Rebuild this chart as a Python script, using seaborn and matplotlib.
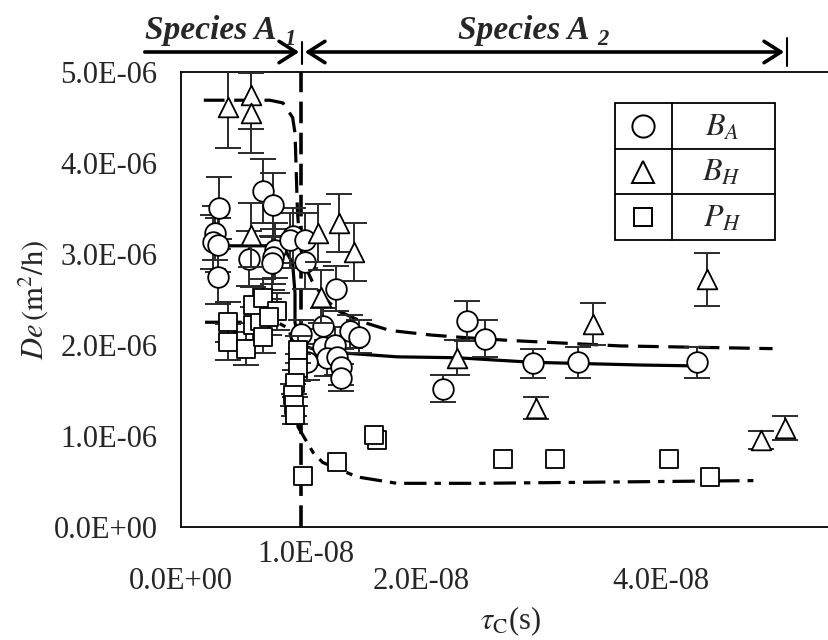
import numpy as np
import pandas as pd
import matplotlib
matplotlib.use("Agg")
import matplotlib.pyplot as plt
import seaborn as sns
from matplotlib.lines import Line2D
from matplotlib.patches import Rectangle, FancyArrowPatch

# ---------------- data (x in units of 1e-8 s, y in units of 1e-6 m2/h) ----------------
ba_x = [0.32, 0.28, 0.27, 0.31, 0.31, 0.68, 0.77, 0.57, 0.78, 0.77, 0.76, 0.93, 0.91,
        1.03, 1.03, 1.00, 1.18, 1.41, 1.48, 1.18, 1.28, 1.22, 1.30, 1.33, 1.33, 1.05,
        1.29, 2.18, 2.38, 2.53, 2.93, 3.31, 4.30]
ba_y = [3.51, 3.23, 3.13, 3.10, 2.75, 3.69, 3.54, 2.95, 3.04, 2.97, 2.90, 3.20, 3.15,
        3.15, 2.91, 2.12, 2.21, 2.15, 2.09, 1.98, 2.00, 1.86, 1.87, 1.76, 1.64, 1.81,
        2.62, 1.52, 2.26, 2.07, 1.80, 1.81, 1.81]
ba_e = [0.34, 0.30, 0.30, 0.30, 0.30, 0.35, 0.35, 0.30, 0.30, 0.30, 0.30, 0.30, 0.30,
        0.30, 0.30, 0.15, 0.20, 0.18, 0.18, 0.20, 0.20, 0.20, 0.20, 0.20, 0.15, 0.20,
        0.25, 0.15, 0.22, 0.20, 0.16, 0.17, 0.17]

bh_x = [0.39, 0.58, 0.58, 0.58, 1.14, 1.32, 1.44, 1.17, 2.30, 2.96, 3.43, 4.38, 4.83, 5.03]
bh_y = [4.61, 4.75, 4.55, 3.21, 3.23, 3.34, 3.02, 2.53, 1.86, 1.31, 2.23, 2.72, 0.96, 1.09]
bh_e = [0.45, 0.38, 0.44, 0.35, 0.32, 0.32, 0.32, 0.29, 0.19, 0.12, 0.23, 0.29, 0.10, 0.13]

ph_x = [0.39, 0.39, 0.54, 0.60, 0.66, 0.68, 0.60, 0.68, 0.80, 0.73, 0.975, 0.975, 0.95,
        0.93, 0.94, 0.95, 1.02, 1.30, 1.63, 1.61, 2.68, 3.12, 4.07, 4.41]
ph_y = [2.25, 2.03, 1.96, 2.22, 2.26, 2.09, 2.44, 2.52, 2.37, 2.31, 1.95, 1.75, 1.58,
        1.45, 1.34, 1.23, 0.56, 0.71, 0.96, 1.01, 0.75, 0.75, 0.75, 0.55]
ph_e = [0.22, 0.20, 0.18, 0.20, 0.20, 0.18, 0.20, 0.20, 0.20, 0.20, 0.15, 0.15, 0.15,
        0.12, 0.12, 0.10, 0.0, 0.0, 0.0, 0.0, 0.0, 0.0, 0.0, 0.0]

# model curves
bh_fit_x = [0.19, 0.74, 0.85, 0.93, 0.95, 0.96, 0.97, 0.99, 1.03, 1.09, 1.16, 1.30, 1.52,
            1.74, 2.08, 2.38, 2.74, 3.66, 4.93]
bh_fit_y = [4.69, 4.69, 4.66, 4.50, 4.33, 3.92, 3.48, 3.10, 2.88, 2.71, 2.57, 2.38, 2.25,
            2.16, 2.11, 2.08, 2.05, 1.99, 1.96]
ba_fit_x = [0.37, 0.72, 0.87, 0.93, 0.95, 0.95, 0.97, 1.05, 1.18, 1.38, 1.80, 2.30, 2.93,
            3.83, 4.30]
ba_fit_y = [3.09, 3.09, 3.04, 2.90, 2.57, 2.25, 2.10, 1.98, 1.92, 1.91, 1.87, 1.86, 1.81,
            1.78, 1.77]
ph_fit_x = [0.20, 0.80, 0.90, 0.95, 0.97, 0.975, 1.10, 1.18, 1.47, 1.80, 2.49, 4.77]
ph_fit_y = [2.25, 2.25, 2.18, 1.90, 1.45, 1.10, 0.82, 0.71, 0.55, 0.48, 0.48, 0.51]

boundary = 1.0  # species A1 / A2 boundary (1e-8 s)

y_ticks = [0, 1, 2, 3, 4, 5]
y_tick_labels = ["0.0E+00", "1.0E-06", "2.0E-06", "3.0E-06", "4.0E-06", "5.0E-06"]
x_ticks = [0, 2, 4]
x_tick_labels = ["0.0E+00", "2.0E-08", "4.0E-08"]
extra_x_label = "1.0E-08"

XS, YS = 1e-8, 1e-6

# ---------------- style ----------------
sns.set_style("white")
plt.rcParams["font.family"] = ["Liberation Serif", "DejaVu Serif"]
plt.rcParams["mathtext.fontset"] = "stix"

W, H = 829, 640
fig = plt.figure(figsize=(W / 100, H / 100), dpi=100)
L, R, B, T = 181, 829, 527, 72
ax = fig.add_axes([L / W, 1 - B / H, (R - L) / W, (B - T) / H])

def fx(px):
    return px / W

def fy(py):
    return 1 - py / H

FS = 22

# ---------------- curves ----------------
curves = [
    (bh_fit_x, bh_fit_y, (0, (6.5, 3.0))),
    (ba_fit_x, ba_fit_y, "-"),
    (ph_fit_x, ph_fit_y, (0, (7.0, 2.5, 2.0, 2.5))),
]
for cx, cy, ls in curves:
    df = pd.DataFrame({"x": np.array(cx) * XS, "y": np.array(cy) * YS})
    n0 = len(ax.lines)
    sns.lineplot(data=df, x="x", y="y", sort=False, estimator=None, ax=ax,
                 color="black", linewidth=2.3, zorder=2)
    for ln in ax.lines[n0:]:
        ln.set_linestyle(ls)

ax.axvline(boundary * XS, color="black", linewidth=2.6,
           linestyle=(0, (6.0, 2.6)), zorder=2)

# ---------------- points with error bars ----------------
series = [
    (ba_x, ba_y, ba_e, "o", 220),
    (bh_x, bh_y, bh_e, "^", 200),
    (ph_x, ph_y, ph_e, "s", 160),
]
z = 3
for sx, sy, se, mk, sz in series:
    df = pd.DataFrame({"x": np.array(sx) * XS, "y": np.array(sy) * YS,
                       "e": np.array(se) * YS})
    de = df[df["e"] > 0]
    ax.errorbar(de["x"], de["y"], yerr=de["e"], fmt="none", ecolor="#2a2a2a",
                elinewidth=1.4, capsize=9.5, capthick=1.4, zorder=z)
    sns.scatterplot(data=df, x="x", y="y", marker=mk, s=sz, color="white",
                    edgecolor="black", linewidth=1.3, ax=ax, zorder=z + 0.5,
                    legend=False)
    z += 1

# ---------------- axes ----------------
ax.set_xlim(0, (R - L) / 120 * XS)
ax.set_ylim(0, 5 * YS)
ax.set_yticks(np.array(y_ticks) * YS)
ax.set_yticklabels(y_tick_labels, fontsize=FS)
ax.set_xticks(np.array(x_ticks) * XS)
ax.set_xticklabels(x_tick_labels, fontsize=FS)
ax.tick_params(axis="y", direction="in", length=9, width=1.0, color="#555555", pad=17)
ax.tick_params(axis="x", direction="in", length=9, width=1.0, color="#888888", pad=29)
ax.set_xlabel("")
ax.set_ylabel("")
for side in ["left", "bottom", "top"]:
    ax.spines[side].set_color("black")
    ax.spines[side].set_linewidth(1.3)
ax.spines["right"].set_visible(False)

fig.text(fx(306), fy(555), extra_x_label, fontsize=FS, ha="center", va="center")
fig.text(fx(510), fy(621), r"$\tau_{\mathrm{C}}$(s)", fontsize=FS, ha="center", va="center")
fig.text(fx(33), fy(300), r"$\mathit{De}\,(\mathrm{m}^{2}/\mathrm{h})$", fontsize=FS,
         ha="center", va="center", rotation=90)

# ---------------- legend table ----------------
lx0, lx1, lxm = 615, 775, 672
ly = [103, 149, 194, 240]
fig.add_artist(Rectangle((fx(lx0), fy(ly[3])), fx(lx1) - fx(lx0), fy(ly[0]) - fy(ly[3]),
                         transform=fig.transFigure, facecolor="white", edgecolor="black",
                         linewidth=1.3, zorder=10))
fig.add_artist(Line2D([fx(lxm), fx(lxm)], [fy(ly[0]), fy(ly[3])], color="black",
                      linewidth=1.3, transform=fig.transFigure, zorder=11))
for yy in ly[1:3]:
    fig.add_artist(Line2D([fx(lx0), fx(lx1)], [fy(yy), fy(yy)], color="black",
                          linewidth=1.3, transform=fig.transFigure, zorder=11))
leg_labels = [r"$B_A$", r"$B_H$", r"$P_H$"]
leg_markers = ["o", "^", "s"]
leg_sizes = [16, 16, 13.5]
for i, (mk, lab, ms) in enumerate(zip(leg_markers, leg_labels, leg_sizes)):
    cy = (ly[i] + ly[i + 1]) / 2
    fig.add_artist(Line2D([fx(643)], [fy(cy)], marker=mk, markersize=ms,
                          markerfacecolor="white", markeredgecolor="black",
                          markeredgewidth=1.4, linestyle="none",
                          transform=fig.transFigure, zorder=12))
    fig.text(fx(722), fy(cy + 2), lab, fontsize=FS + 1, ha="center", va="center", zorder=12)

# ---------------- species annotations ----------------
ay = 52
arr1 = FancyArrowPatch((fx(142), fy(ay)), (fx(302), fy(ay)), transform=fig.transFigure,
                       arrowstyle="->,head_length=0.55,head_width=0.35",
                       mutation_scale=22, linewidth=2.6, color="black")
arr2 = FancyArrowPatch((fx(302), fy(ay)), (fx(787), fy(ay)), transform=fig.transFigure,
                       arrowstyle="<->,head_length=0.55,head_width=0.35",
                       mutation_scale=22, linewidth=2.6, color="black")
fig.add_artist(arr1)
fig.add_artist(arr2)
fig.add_artist(Line2D([fx(302), fx(302)], [fy(42), fy(64)], color="black",
                      linewidth=1.5, transform=fig.transFigure))
fig.add_artist(Line2D([fx(787), fx(787)], [fy(38), fy(66)], color="black",
                      linewidth=1.5, transform=fig.transFigure))

renderer = fig.canvas.get_renderer()
SFS = 24
for x0, sub in [(145, "1"), (458, "2")]:
    t = fig.text(fx(x0), fy(39), "Species A", fontsize=SFS, fontweight="bold",
                 fontstyle="italic", ha="left", va="baseline")
    bb = t.get_window_extent(renderer=renderer)
    fig.text((bb.x1 + 8) / W, fy(45), sub, fontsize=SFS * 0.68, fontweight="bold",
             fontstyle="italic", ha="left", va="baseline")

fig.savefig("out.png", dpi=100)
